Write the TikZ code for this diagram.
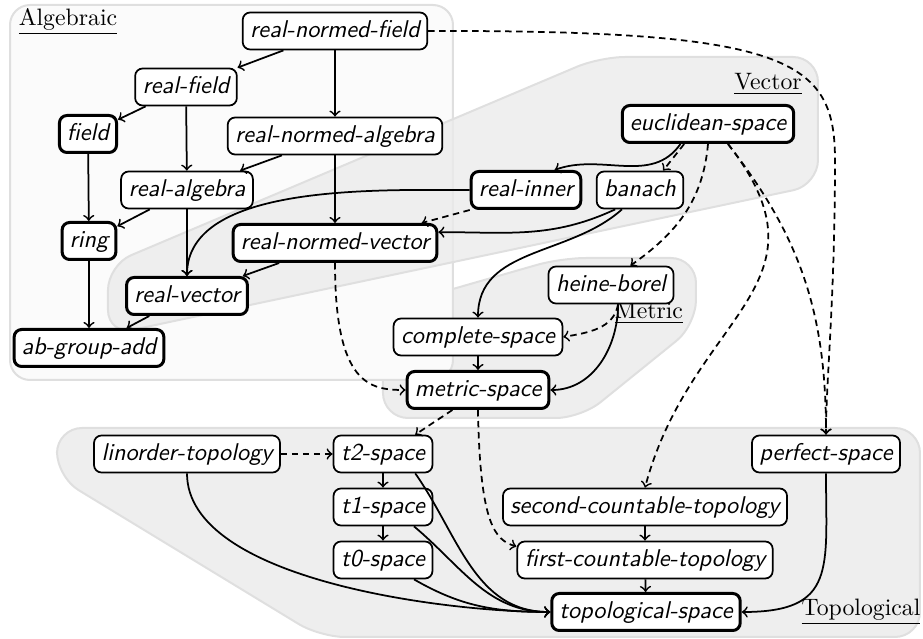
\documentclass[tikz,border=0pt]{standalone}
\usepackage{tikz}

\begin{document}
\begin{tikzpicture}[x=0.4pt,y=-0.4pt,
    cls/.style={draw, fill=white, rounded corners=3pt, line width=0.7pt, font=\fontsize{9.7}{11}\sffamily\itshape, inner xsep=3pt, inner ysep=2.6pt, text height=7.4pt, text depth=2.2pt},
    base/.style={cls, line width=1.2pt},
    edge/.style={line width=0.7pt, ->},
    weak/.style={edge, dash pattern=on 2.6pt off 1.8pt},
    region/.style={fill=gray!13, draw=gray!25, line width=0.8pt, rounded corners=10pt},
    title/.style={font=\fontsize{9.5}{11}\selectfont}]
        \useasboundingbox (0,0) rectangle (923,639);
        \draw[region] (57,428) -- (920,428) -- (920,637) -- (320,637) -- (57,477) -- cycle;
        \draw[region] (383,309) -- (561,258) -- (696,258) -- (696,325) -- (581,418) -- (383,418) -- cycle;
        \draw[region, fill=gray!3, rounded corners=8pt] (10,5) rectangle (453,380);
        \draw[region, fill=gray!16, fill opacity=0.8] (108,265) -- (600,57) -- (818,57) -- (818,185) -- (108,335) -- cycle;
        \node[title] (alg) at (68,22) {\underline{Algebraic}};
        \node[title] (vec) at (768,84) {\underline{Vector}};
        \node[title] (met) at (649,313) {\underline{Metric}};
        \node[title] (topo) at (861,612) {\underline{Topological}};
        \node[cls] (rnf) at (335,31) {real-normed-field};
        \node[cls] (rf) at (186,87) {real-field};
        \node[base] (field) at (88,134) {field};
        \node[cls] (rna) at (335,136) {real-normed-algebra};
        \node[cls] (ralg) at (187,190) {real-algebra};
        \node[base] (ring) at (89,241) {ring};
        \node[base] (rnv) at (335,243) {real-normed-vector};
        \node[base] (rvec) at (187,296) {real-vector};
        \node[base] (agadd) at (89,348) {ab-group-add};
        \node[base] (eucl) at (708,124) {euclidean-space};
        \node[base] (rinner) at (526,190) {real-inner};
        \node[cls] (banach) at (640,190) {banach};
        \node[cls] (heine) at (611,285) {heine-borel};
        \node[cls] (complete) at (478,337) {complete-space};
        \node[base] (metric) at (478,390) {metric-space};
        \node[cls] (linorder) at (187,454) {linorder-topology};
        \node[cls] (t2) at (383,454) {t2-space};
        \node[cls] (t1) at (383,507) {t1-space};
        \node[cls] (t0) at (383,560) {t0-space};
        \node[cls] (perfect) at (826,454) {perfect-space};
        \node[cls] (second) at (645,507) {second-countable-topology};
        \node[cls] (first) at (645,560) {first-countable-topology};
        \node[base] (top) at (646,612) {topological-space};
        \draw[edge] (rnf) -- (rf);
        \draw[edge] (rnf) -- (rna);
        \draw[edge] (rf) -- (field);
        \draw[edge] (rf) -- (ralg);
        \draw[edge] (rna) -- (ralg);
        \draw[edge] (rna) -- (rnv);
        \draw[edge] (field) -- (ring);
        \draw[edge] (ralg) -- (ring);
        \draw[edge] (ralg) -- (rvec);
        \draw[edge] (ring) -- (agadd);
        \draw[edge] (rvec) -- (agadd);
        \draw[edge] (rnv) -- (rvec);
        \draw[edge] (rinner.west) to[out=180,in=90,looseness=0.8] (rvec.north);
        \draw[weak] (rinner.south west) -- (rnv.13);
        \draw[edge] (eucl.216) to[out=235,in=20] (rinner.35);
        \draw[weak] (eucl.220) -- (banach.40);
        \draw[edge] (banach.218) to[out=205,in=0] (rnv.6);
        \draw[edge] (banach.227) to[out=222,in=90] (complete.north);
        \draw[weak] (eucl.south) to[out=265,in=35] (heine.45);
        \draw[weak] (eucl.315) to[out=308,in=75,looseness=1.3] (second.north);
        \draw[weak] (eucl.315) to[out=308,in=90] (perfect.north);
        \draw[weak] (rnf.east) .. controls (790,30) and (835,60) .. (835,160) .. controls (835,300) and (826,380) .. (perfect.north);
        \draw[edge] (complete) -- (metric);
        \draw[weak] (heine.290) to[out=260,in=10] (complete.east);
        \draw[edge] (heine.290) to[out=270,in=0] (metric.east);
        \draw[weak] (rnv.south) .. controls (335,385) and (370,390) .. (metric.west);
        \draw[weak] (metric.218) -- (t2.31);
        \draw[weak] (metric.south) .. controls (480,525) and (495,540) .. (first.174);
        \draw[weak] (linorder) -- (t2);
        \draw[edge] (linorder.south) to[out=270,in=180,looseness=0.7] (top.west);
        \draw[edge] (t2) -- (t1);
        \draw[edge] (t1) -- (t0);
        \draw[edge] (t2.329) to[out=305,in=180] (top.west);
        \draw[edge] (t1.328) to[out=320,in=180] (top.west);
        \draw[edge] (t0.328) to[out=330,in=180] (top.west);
        \draw[edge] (second) -- (first);
        \draw[edge] (first) -- (top);
        \draw[edge] (perfect.south) to[out=270,in=0,looseness=1.5] (top.east);
    \end{tikzpicture}
\end{document}
